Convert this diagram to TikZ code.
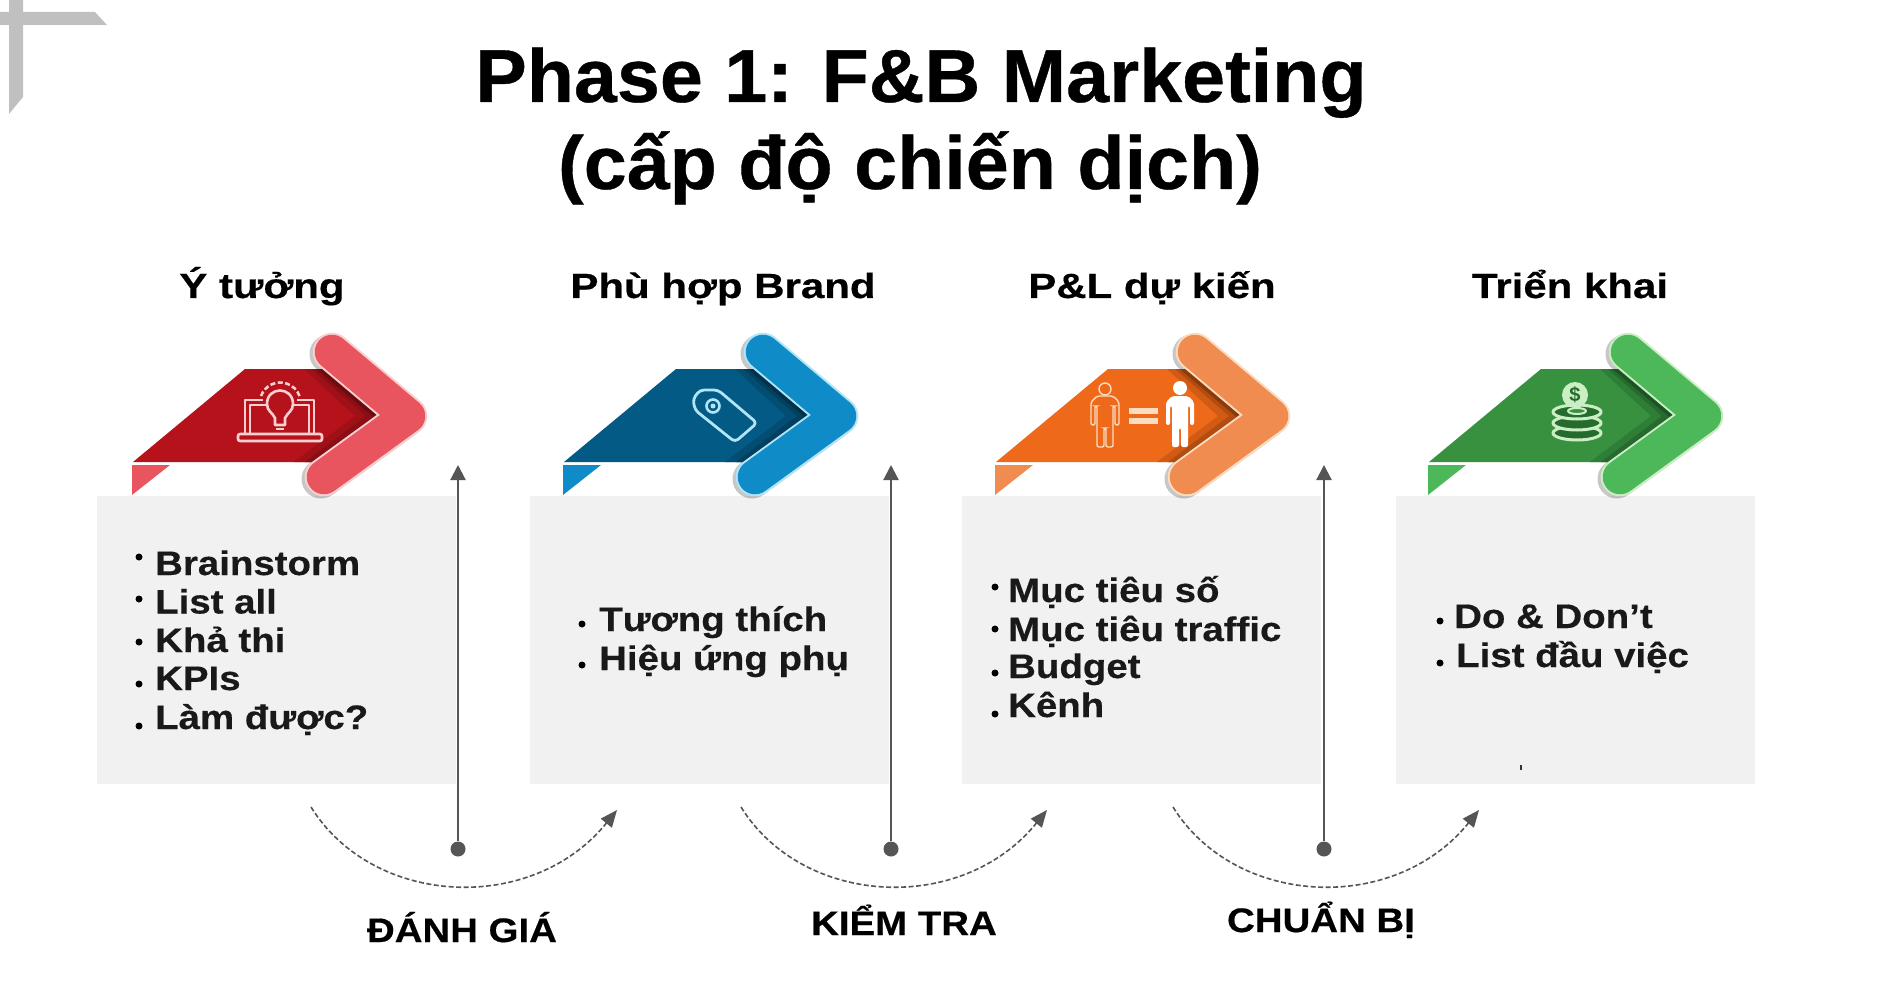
\documentclass[tikz,border=0pt]{standalone}
\usepackage{fontspec}
\usetikzlibrary{arrows.meta}
\setmainfont{Liberation Sans}
\newfontfamily\titlef[FakeStretch=1.03,FakeBold=0.5]{Liberation Sans}
\newfontfamily\headf[FakeStretch=1.20,FakeBold=0.4]{Liberation Sans}
\newfontfamily\bodyf[FakeStretch=1.13,FakeBold=0.4]{Liberation Sans}
\definecolor{rB}{HTML}{B5121B}\definecolor{rD}{HTML}{8A0E14}\definecolor{rC}{HTML}{E8555F}\definecolor{rP}{HTML}{F9CFCF}
\definecolor{bB}{HTML}{035A85}\definecolor{bD}{HTML}{033F5F}\definecolor{bC}{HTML}{0F8CC8}\definecolor{bP}{HTML}{B0E4F6}
\definecolor{oB}{HTML}{EE6A1A}\definecolor{oD}{HTML}{B34C0E}\definecolor{oC}{HTML}{F08C50}\definecolor{oP}{HTML}{FBDCC0}
\definecolor{gB}{HTML}{38913F}\definecolor{gD}{HTML}{256B2E}\definecolor{gC}{HTML}{4CB85A}\definecolor{gP}{HTML}{CCEEC4}
\definecolor{boxg}{HTML}{F1F1F1}\definecolor{lineg}{HTML}{555555}\definecolor{markg}{HTML}{C0C0C0}
\tikzset{
  panel/.style={fill=boxg,draw=none,inner sep=0pt,minimum width=359pt,minimum height=288pt},
  titletext/.style={font=\titlef\bfseries\fontsize{75}{80}\selectfont,text=black,inner sep=0pt,anchor=base},
  headtext/.style={font=\headf\bfseries\fontsize{35}{38}\selectfont,text=black,inner sep=0pt,anchor=base},
  bodytext/.style={font=\bodyf\bfseries\fontsize{34}{36}\selectfont,text=black!90,inner sep=0pt,anchor=base west},
  steptext/.style={font=\bodyf\bfseries\fontsize{34}{36}\selectfont,text=black,inner sep=0pt,anchor=base},
  bulletdot/.style={circle,fill=black,inner sep=0pt,minimum size=7pt},
  enddot/.style={circle,fill=lineg,inner sep=0pt,minimum size=15pt},
  vline/.style={draw=lineg,line width=2.2pt,-{Triangle[length=15pt,width=15pt]},shorten <=0pt},
  arcline/.style={draw=lineg,line width=1.6pt,dash pattern=on 5pt off 2.5pt,-{Triangle[length=17pt,width=14pt]}},
  iconline/.style={draw=white,line width=2.6pt,line join=round},
}
% arguments: x shift, body, dark, chevron, pale
\newcommand{\ribbonarrow}[5]{%
  \begin{scope}[shift={(#1,0)}]
    \fill[#4] (132,465) -- (170,465) -- (132,495) -- cycle;
    \fill[#2] (133,462) -- (245,369) -- (323,369) -- (378,416) -- (317,462) -- cycle;
    \fill[#2!50!#3] (304,369) -- (323,369) -- (378,416) -- (317,462) -- (294,462) -- (355,416) -- cycle;
    \fill[#3] (312,369) -- (323,369) -- (378,416) -- (317,462) -- (305,462) -- (366,416) -- cycle;
    \draw[black,opacity=.22,line width=39pt,line cap=round,line join=round,shift={(-3,2)}] (332,352) -- (408,416) -- (324,477);
    \draw[#5,line width=38.5pt,line cap=round,line join=round] (332,352) -- (408,416) -- (324,477);
    \draw[#4,line width=34.5pt,line cap=round,line join=round] (332,352) -- (408,416) -- (324,477);
  \end{scope}}
\newcommand{\personpath}[1]{%
  [rounded corners=2pt] (#1-8,396) -- (#1+8,396) -- (#1+14,402) -- (#1+14,425) -- (#1+10,425) -- (#1+10,406) -- (#1+8,406) -- (#1+8,447) -- (#1+1,447) -- (#1+1,428) -- (#1-1,428) -- (#1-1,447) -- (#1-8,447) -- (#1-8,406) -- (#1-10,406) -- (#1-10,425) -- (#1-14,425) -- (#1-14,402) -- cycle}
\begin{document}
\begin{tikzpicture}[x=1pt,y=-1pt]
\useasboundingbox (0,0) rectangle (1885,995);
\fill[white] (0,0) rectangle (1885,995);
% corner mark
\fill[markg] (0,12) -- (95,12) -- (107,25) -- (0,25) -- cycle;
\fill[markg] (9,0) -- (23,0) -- (23,97) -- (9,114) -- cycle;
% title
\node[titletext] (title1) at (921,102) {Phase 1: F\&B Marketing};
\node[titletext] (title2) at (910,189) {(cấp độ chiến dịch)};
% headings
\node[headtext] (h1) at (262,298) {Ý tưởng};
\node[headtext] (h2) at (723,298) {Phù hợp Brand};
\node[headtext] (h3) at (1152,298) {P\&L dự kiến};
\node[headtext] (h4) at (1570,298) {Triển khai};
% panels
\node[panel] (p1) at (276.5,640) {};
\node[panel] (p2) at (709,640) {};
\node[panel] (p3) at (1141.5,640) {};
\node[panel] (p4) at (1575.5,640) {};
% arrows
\ribbonarrow{0}{rB}{rD}{rC}{rP}
\ribbonarrow{431}{bB}{bD}{bC}{bP}
\ribbonarrow{863}{oB}{oD}{oC}{oP}
\ribbonarrow{1296}{gB}{gD}{gC}{gP}
% icon 1: laptop + bulb
\draw[iconline,draw=rP] (263,400) -- (245,400) -- (245,433);
\draw[iconline,draw=rP] (297,400) -- (314,400) -- (314,433);
\draw[iconline,draw=rP] (250,433) -- (250,405) -- (266,405);
\draw[iconline,draw=rP] (294,405) -- (309,405) -- (309,433);
\draw[iconline,draw=rP,rounded corners=2pt] (238,434) rectangle (322,441);
\draw[iconline,draw=rP,fill=rB] (275,425) -- (275,418) .. controls (272,412) and (267,411) .. (267,404) .. controls (267,386) and (293,386) .. (293,404) .. controls (293,411) and (288,412) .. (285,418) -- (285,425) -- cycle;
\draw[iconline,draw=rP] (276,429) -- (284,429);
\draw[iconline,draw=rP,dash pattern=on 5pt off 2.5pt] (261,396) arc (200:340:20.5);
% icon 2: tag
\draw[iconline,line width=2.8pt,draw=bP,rounded corners=4pt] (700,390) -- (718,390) -- (757,423) -- (735,442) -- (695,410) -- (693,399) -- cycle;
\draw[iconline,draw=bP] (713,406) circle (6.5pt);
\fill[bP] (713,406) circle (2.5pt);
% icon 3: people
\draw[oP,line width=1.4pt] (1105,389) circle (6pt);
\draw[oP,line width=1.4pt] \personpath{1105};
\fill[oP] (1129,408) rectangle (1158,414);
\fill[oP] (1129,418) rectangle (1158,424);
\fill[white] (1180,388) circle (7pt);
\fill[white] \personpath{1180};
% icon 4: coins
\foreach \yy in {433,423,412}{
  \draw[iconline,draw=gP,line width=3pt,fill=gD] (1577,\yy) ellipse (24pt and 7pt);
}
\draw[iconline,draw=gP,line width=2pt,fill=gB] (1577,411) ellipse (9pt and 3pt);
\node[circle,fill=gP,inner sep=0pt,minimum size=26pt,text=gD,font=\bfseries\fontsize{20}{20}\selectfont] (coin) at (1575,395) {\$};
% bullets 1
\node[bodytext] (t11) at (155,575) {Brainstorm};
\node[bodytext] (t12) at (155,613.5) {List all};
\node[bodytext] (t13) at (155,652) {Khả thi};
\node[bodytext] (t14) at (155,690) {KPIs};
\node[bodytext] (t15) at (155,729) {Làm được?};
\node[bulletdot] (b11) at (139,557) {};
\node[bulletdot] (b12) at (139,599) {};
\node[bulletdot] (b13) at (139,642) {};
\node[bulletdot] (b14) at (139,684) {};
\node[bulletdot] (b15) at (139,726) {};
% bullets 2
\node[bodytext] (t21) at (599,631) {Tương thích};
\node[bodytext] (t22) at (599,670) {Hiệu ứng phụ};
\node[bulletdot] (b21) at (582,624) {};
\node[bulletdot] (b22) at (582,665) {};
% bullets 3
\node[bodytext] (t31) at (1008,602) {Mục tiêu số};
\node[bodytext] (t32) at (1008,641) {Mục tiêu traffic};
\node[bodytext] (t33) at (1008,678) {Budget};
\node[bodytext] (t34) at (1008,717) {Kênh};
\node[bulletdot] (b31) at (995,587) {};
\node[bulletdot] (b32) at (995,629) {};
\node[bulletdot] (b33) at (995,673) {};
\node[bulletdot] (b34) at (995,714) {};
% bullets 4
\node[bodytext] (t41) at (1454,628) {Do \& Don’t};
\node[bodytext] (t42) at (1456,667) {List đầu việc};
\node[bulletdot] (b41) at (1440,621) {};
\node[bulletdot] (b42) at (1440,663) {};
\fill[black!80] (1520,765) rectangle (1522,770);
% vertical connectors
\node[enddot] (d1) at (458,849) {};
\node[enddot] (d2) at (891,849) {};
\node[enddot] (d3) at (1324,849) {};
\coordinate (u1) at (458,465);
\coordinate (u2) at (891,465);
\coordinate (u3) at (1324,465);
\draw[vline] (d1) -- (u1);
\draw[vline] (d2) -- (u2);
\draw[vline] (d3) -- (u3);
% arcs
\coordinate (as1) at (311,807); \coordinate (ae1) at (617,810);
\coordinate (as2) at (741,807); \coordinate (ae2) at (1047,810);
\coordinate (as3) at (1173,807); \coordinate (ae3) at (1479,810);
\draw[arcline] (as1) .. controls +(62,100) and +(-85,105) .. (ae1);
\draw[arcline] (as2) .. controls +(62,100) and +(-85,105) .. (ae2);
\draw[arcline] (as3) .. controls +(62,100) and +(-85,105) .. (ae3);
% step labels
\node[steptext] (s1) at (462,942) {ĐÁNH GIÁ};
\node[steptext] (s2) at (904,935) {KIỂM TRA};
\node[steptext] (s3) at (1321,932) {CHUẨN BỊ};
\end{tikzpicture}
\end{document}
